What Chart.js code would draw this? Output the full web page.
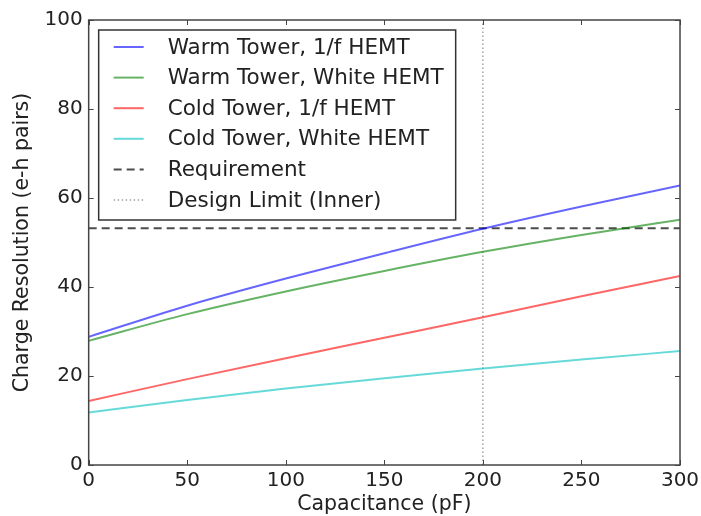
<!DOCTYPE html>
<html>
<head>
<meta charset="utf-8">
<script src="https://cdn.jsdelivr.net/npm/chart.js@4/dist/chart.umd.min.js"></script>
<style>
  html, body { margin: 0; padding: 0; background: #fff; }
  #wrap { width: 701px; height: 516px; }
</style>
</head>
<body>
<div id="wrap"><canvas id="myChart"></canvas></div>
<script>
const capacitance = [0, 50, 100, 150, 200, 250, 300];
const warmOneOverF = [28.8, 35.8, 41.9, 47.6, 53.1, 58.1, 62.8];
const warmWhite = [27.9, 33.9, 39.0, 43.6, 47.9, 51.7, 55.1];
const coldOneOverF = [14.4, 19.3, 24.0, 28.6, 33.2, 37.9, 42.5];
const coldWhite = [11.8, 14.6, 17.2, 19.5, 21.7, 23.7, 25.6];
const requirement = 53.2;
const designLimit = 200;
const xTicks = [0, 50, 100, 150, 200, 250, 300];
const yTicks = [0, 20, 40, 60, 80, 100];

const FONT = "'DejaVu Sans', sans-serif";

function points(ys) {
  return capacitance.map((c, i) => ({ x: c, y: ys[i] }));
}

function curve(label, color, ys) {
  return {
    label: label,
    data: points(ys),
    borderColor: color,
    backgroundColor: color,
    borderWidth: 2,
    pointRadius: 0,
    cubicInterpolationMode: "monotone",
  };
}

const datasets = [
  curve("Warm Tower, 1/f HEMT", "rgba(0,0,255,0.6)", warmOneOverF),
  curve("Warm Tower, White HEMT", "rgba(0,128,0,0.6)", warmWhite),
  curve("Cold Tower, 1/f HEMT", "rgba(255,0,0,0.6)", coldOneOverF),
  curve("Cold Tower, White HEMT", "rgba(0,191,191,0.6)", coldWhite),
  {
    label: "Requirement",
    data: [{ x: 0, y: requirement }, { x: 300, y: requirement }],
    borderColor: "rgba(0,0,0,0.7)",
    borderWidth: 2,
    borderDash: [8, 5],
    pointRadius: 0,
  },
  {
    label: "Design Limit (Inner)",
    data: [{ x: designLimit, y: 0 }, { x: designLimit, y: 100 }],
    borderColor: "rgba(0,0,0,0.55)",
    borderWidth: 1,
    borderDash: [1.5, 2.5],
    pointRadius: 0,
  },
];

// matplotlib-style frame with inward ticks on all four sides
const framePlugin = {
  id: "frame",
  afterDatasetsDraw(chart) {
    const { ctx, chartArea: a, scales } = chart;
    ctx.save();
    ctx.strokeStyle = "#444";
    ctx.lineWidth = 1;
    ctx.beginPath();
    xTicks.forEach((v) => {
      const px = Math.round(scales.x.getPixelForValue(v)) + 0.5;
      ctx.moveTo(px, a.bottom); ctx.lineTo(px, a.bottom - 5);
      ctx.moveTo(px, a.top); ctx.lineTo(px, a.top + 5);
    });
    yTicks.forEach((v) => {
      const py = Math.round(scales.y.getPixelForValue(v)) + 0.5;
      ctx.moveTo(a.left, py); ctx.lineTo(a.left + 5, py);
      ctx.moveTo(a.right, py); ctx.lineTo(a.right - 5, py);
    });
    ctx.stroke();
    ctx.lineWidth = 1.5;
    ctx.strokeRect(a.left, a.top, a.right - a.left, a.bottom - a.top);
    ctx.restore();
  },
};

// legend drawn inside the axes, upper left
const legendPlugin = {
  id: "boxLegend",
  afterDraw(chart) {
    const { ctx, chartArea: a } = chart;
    const x0 = a.left + 10, y0 = a.top + 10;
    const w = 357, h = 190, rowH = 30.6;
    ctx.save();
    ctx.fillStyle = "#fff";
    ctx.fillRect(x0, y0, w, h);
    ctx.strokeStyle = "#333";
    ctx.lineWidth = 1.5;
    ctx.strokeRect(x0, y0, w, h);
    ctx.font = "21.5px " + FONT;
    ctx.textBaseline = "middle";
    chart.data.datasets.forEach((ds, i) => {
      const y = y0 + 17 + i * rowH;
      ctx.beginPath();
      ctx.strokeStyle = ds.borderColor;
      ctx.lineWidth = ds.borderWidth;
      ctx.setLineDash(ds.borderDash || []);
      ctx.moveTo(x0 + 15, y);
      ctx.lineTo(x0 + 45, y);
      ctx.stroke();
      ctx.setLineDash([]);
      ctx.fillStyle = "#222";
      ctx.fillText(ds.label, x0 + 69, y + 1);
    });
    ctx.restore();
  },
};

const config = {
  type: "line",
  data: { datasets: datasets },
  options: {
    responsive: true,
    maintainAspectRatio: false,
    animation: false,
    layout: {
      padding: { top: 20, right: 21, left: 12, bottom: 0 },
    },
    scales: {
      x: {
        type: "linear",
        min: 0,
        max: 300,
        afterBuildTicks: (s) => { s.ticks = xTicks.map((v) => ({ value: v })); },
        afterFit: (s) => { s.height = 51; s.paddingLeft = 0; s.paddingRight = 0; },
        ticks: { color: "#222", font: { family: FONT, size: 20, lineHeight: 1 }, padding: 6 },
        grid: { display: false, drawTicks: false },
        border: { display: false },
        title: {
          display: true,
          text: "Capacitance (pF)",
          color: "#222",
          font: { family: FONT, size: 20.5, lineHeight: 1 },
          padding: { top: 0, bottom: 1 },
        },
      },
      y: {
        type: "linear",
        min: 0,
        max: 100,
        afterBuildTicks: (s) => { s.ticks = yTicks.map((v) => ({ value: v })); },
        afterFit: (s) => { s.paddingTop = 0; s.paddingBottom = 0; },
        ticks: { color: "#222", font: { family: FONT, size: 20, lineHeight: 1 }, padding: 6 },
        grid: { display: false, drawTicks: false },
        border: { display: false },
        title: {
          display: true,
          text: "Charge Resolution (e-h pairs)",
          color: "#222",
          font: { family: FONT, size: 20.5, lineHeight: 1 },
          padding: { top: 0, bottom: 6 },
        },
      },
    },
    plugins: {
      legend: { display: false },
      tooltip: { enabled: false },
    },
  },
  plugins: [framePlugin, legendPlugin],
};

new Chart(document.getElementById("myChart"), config);
</script>
</body>
</html>
